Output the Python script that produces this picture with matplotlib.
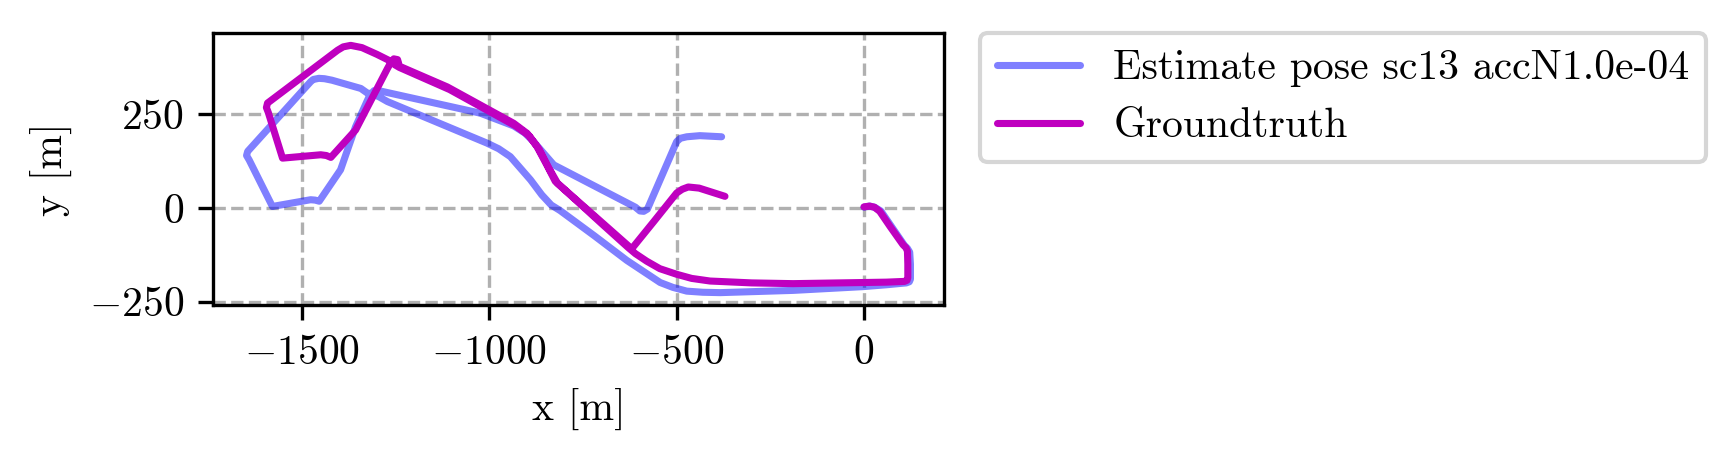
import matplotlib
matplotlib.use("Agg")
import matplotlib.pyplot as plt

# ---- data (metres) ----
gt_x = [0, 15, 28, 42, 70, 104, 112, 116, 117, 117, 115, 108, 60, -189, -300, -411, -460, -500,
        -545, -580, -610, -629,
        -700, -770, -824, -845, -873, -899, -935, -1112, -1246, -1256,
        -1300, -1340, -1370, -1390, -1405, -1592, -1595, -1590, -1552, -1450, -1435, -1423,
        -1357, -1272,
        -1262, -1255, -1245, -1242, -1252,
        -1240, -1106, -930, -893, -867, -842, -818, -620,
        -560, -500, -485, -469, -440, -371]
gt_y = [3, 5, 2, -9, -50, -98, -106, -115, -150, -186, -193, -196, -198, -202, -200, -195, -188, -177,
        -162, -142, -122, -106,
        -42, 22, 71, 112, 164, 199, 226, 323, 381, 388,
        410, 428, 434, 430, 421, 280, 268, 255, 133, 142, 140, 135,
        208, 372,
        390, 398, 396, 386, 382,
        375, 316, 219, 192, 157, 108, 66, -109,
        -35, 40, 50, 56, 53, 31]

est_x = [0, 15, 28, 45, 75, 108, 116, 122, 124, 124, 121, 113, 60, -3, -189, -384, -430, -473,
         -510, -544, -633, -720, -811, -835, -860, -890, -944, -975, -1006, -1272, -1295,
         -1315, -1326, -1343, -1420, -1440, -1455, -1470, -1477, -1645, -1648, -1641, -1579,
         -1477, -1465, -1454, -1397, -1357, -1321, -1308, -1290, -1024, -935, -905, -882, -828,
         -610, -598, -588, -578, -500, -490, -473, -438, -380]
est_y = [2, 5, 2, -8, -52, -100, -108, -118, -150, -190, -197, -200, -205, -210, -220, -226, -225, -222,
         -212, -199, -140, -74, -7, 8, 35, 75, 137, 158, 173, 284, 297,
         305, 307, 319, 341, 345, 346, 343, 337, 151, 140, 128, 4,
         22, 21, 18, 102, 217, 297, 313, 312, 253, 219, 200, 177, 115,
         2, -8, -9, -3, 177, 186, 190, 193, 190]

x_ticks = [-1500, -1000, -500, 0]
y_ticks = [-250, 0, 250]
est_label = "Estimate pose sc13 accN1.0e-04"
gt_label = "Groundtruth"

plt.rcParams.update({
    "font.family": ["cmr10", "DejaVu Serif"],
    "mathtext.fontset": "cm",
    "axes.formatter.use_mathtext": True,
    "font.size": 10,
})

W, H, DPI = 1736, 462, 300
fig = plt.figure(figsize=(W / DPI, H / DPI), dpi=DPI)
ax = fig.add_axes([212 / W, 1 - 305 / H, 733 / W, 272 / H])

ax.plot(est_x, est_y, color="b", alpha=0.5, lw=1.7,
        solid_joinstyle="round", solid_capstyle="round", label=est_label)
ax.plot(gt_x, gt_y, color="m", lw=1.7,
        solid_joinstyle="round", solid_capstyle="round", label=gt_label)

ax.set_aspect("equal")
ax.set_xticks(x_ticks)
ax.set_yticks(y_ticks)
ax.grid(True, linestyle="--")
ax.set_xlabel("x [m]")
ax.set_ylabel("y [m]")
ax.legend(bbox_to_anchor=(1.05, 1), loc="upper left", borderaxespad=0)

fig.savefig("out.png", dpi=DPI)
